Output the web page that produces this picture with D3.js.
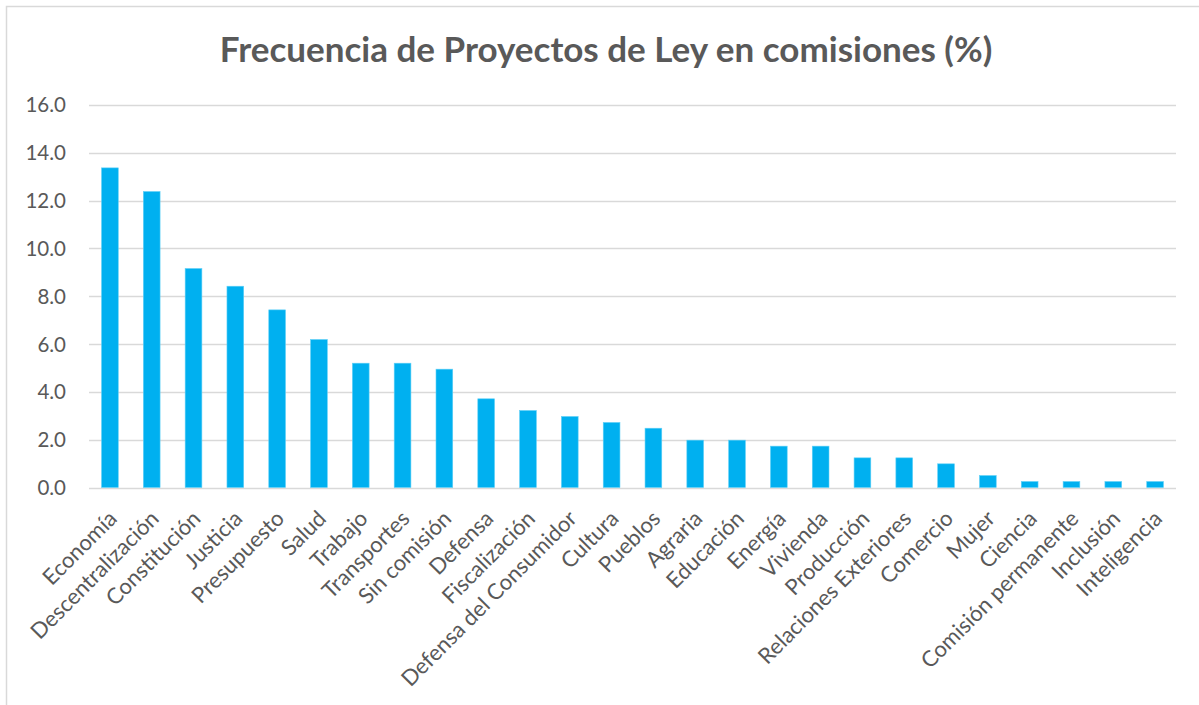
<!DOCTYPE html>
<html>
<head>
<meta charset="utf-8">
<script src="https://cdn.jsdelivr.net/npm/d3@7"></script>
<style>
  html, body { margin: 0; padding: 0; background: #fff; }
  svg { display: block; }
</style>
</head>
<body>
<svg id="chart" width="1199" height="705"></svg>
<script>
const categories = ["Economía","Descentralización","Constitución","Justicia","Presupuesto","Salud","Trabajo","Transportes","Sin comisión","Defensa","Fiscalización","Defensa del Consumidor","Cultura","Pueblos","Agraria","Educación","Energía","Vivienda","Producción","Relaciones Exteriores","Comercio","Mujer","Ciencia","Comisión permanente","Inclusión","Inteligencia"];
const values = [13.37,12.38,9.16,8.42,7.43,6.19,5.20,5.20,4.95,3.71,3.22,2.97,2.72,2.48,1.98,1.98,1.73,1.73,1.24,1.24,0.99,0.50,0.25,0.25,0.25,0.25];
const yTicks = [0,2,4,6,8,10,12,14,16];
const title = "Frecuencia de Proyectos de Ley en comisiones (%)";

const svg = d3.select("#chart");
const FONT = "Lato, 'Open Sans', sans-serif";
const TXT = "#595959";

// chart border
svg.append("rect").attr("x", 6.5).attr("y", 6.5).attr("width", 1300).attr("height", 800)
  .attr("fill", "#fff").attr("stroke", "#d9d9d9").attr("stroke-width", 1.5);

const x = d3.scaleBand().domain(categories).range([89, 1176]).paddingInner(0.6).paddingOuter(0.3);
const y = d3.scaleLinear().domain([0, 16]).range([487.5, 105]);

// gridlines
svg.append("g").selectAll("line").data(yTicks).join("line")
  .attr("x1", 89).attr("x2", 1176)
  .attr("y1", d => Math.round(y(d)) + 0.5).attr("y2", d => Math.round(y(d)) + 0.5)
  .attr("stroke", "#d9d9d9").attr("stroke-width", 1.3);

// y axis labels
const yAxis = d3.axisLeft(y).tickValues(yTicks).tickFormat(d3.format(".1f")).tickSize(0).tickPadding(0);
const yg = svg.append("g").attr("transform", "translate(66,0)").call(yAxis);
yg.select(".domain").remove();
yg.selectAll("text").attr("font-family", FONT).attr("font-size", 20.5).attr("fill", TXT).attr("dy", "0.34em");

// bars
svg.append("g").selectAll("rect").data(values).join("rect")
  .attr("x", (d, i) => x(categories[i]))
  .attr("width", x.bandwidth())
  .attr("y", d => y(d))
  .attr("height", d => y(0) - y(d))
  .attr("fill", "#00B0F0")
  .attr("stroke", "#5fd0f7").attr("stroke-width", 0.6);

// x axis labels
const xAxis = d3.axisBottom(x).tickSize(0).tickPadding(0);
const xg = svg.append("g").attr("transform", "translate(0,487.5)").call(xAxis);
xg.select(".domain").remove();
xg.selectAll("text")
  .attr("font-family", FONT).attr("font-size", 22).attr("fill", TXT)
  .attr("text-anchor", "end")
  .attr("dy", "0.35em").attr("y", 0)
  .attr("transform", "translate(3,27) rotate(-45)");

// title
svg.append("text").attr("x", 606).attr("y", 62)
  .attr("text-anchor", "middle")
  .attr("font-family", FONT).attr("font-weight", "bold").attr("font-size", 35)
  .attr("fill", TXT).text(title);
</script>
</body>
</html>
